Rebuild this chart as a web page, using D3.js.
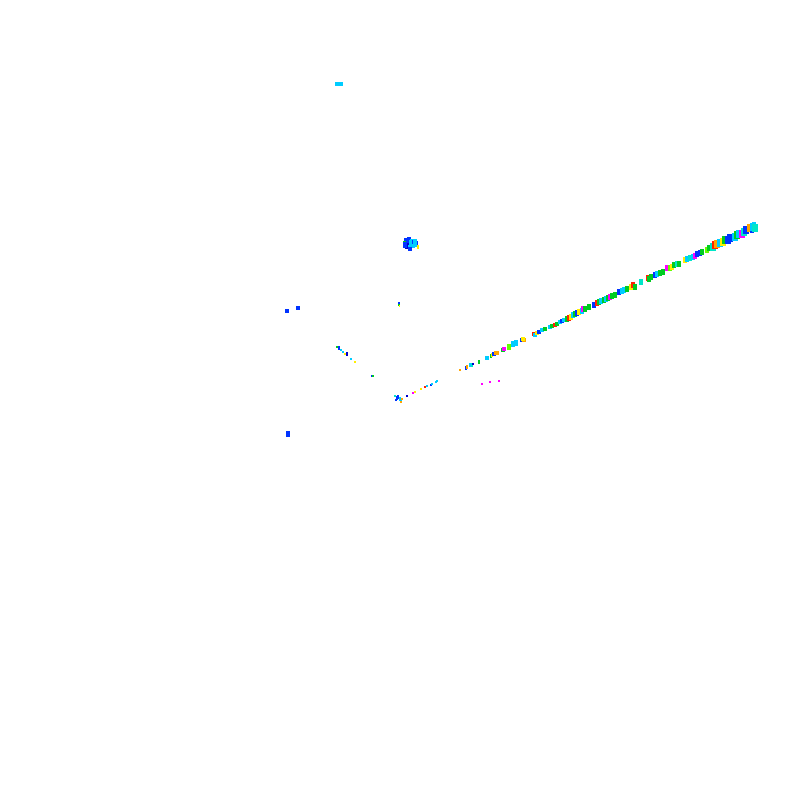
<!DOCTYPE html>
<html>
<head>
<meta charset="utf-8">
<script src="https://cdn.jsdelivr.net/npm/d3@7"></script>
<style>
  body { margin: 0; background: #fff; }
  svg { display: block; }
</style>
</head>
<body>
<svg id="cloud_svg" width="800" height="800"></svg>
<script>
// each point: [x, y, depth, colour key]
var lineHead = [
  [64.1,51.8,3,'t'], [64.8,52.2,3,'r'], [64.9,52.1,3,'g'], [65.1,52.3,3,'g'],
  [65.5,52.5,3,'b'], [65.7,52.6,3,'c'], [66.0,52.7,3,'g'], [66.3,52.8,3,'g'],
  [66.7,53.2,3,'m'], [67.0,53.2,3,'l'], [67.2,53.3,3,'y'], [67.4,53.5,3,'g'],
  [67.7,53.6,3,'t'], [67.9,53.6,3,'g'], [68.5,54.0,3.5,'y'], [68.7,54.1,3.5,'c'],
  [69.0,54.2,3.5,'t'], [69.3,54.3,3.5,'c'], [69.5,54.4,3.5,'m'], [69.7,54.6,3.5,'b'],
  [70.0,54.7,3.5,'b'], [70.2,54.8,3.5,'g'], [70.7,55.0,3.5,'l'], [70.9,55.2,3.5,'g'],
  [71.3,55.3,4,'t'], [71.5,55.5,4,'r'], [71.7,55.6,4,'o'], [72.0,55.7,4,'c'],
  [72.3,55.8,4,'y'], [72.5,56.0,4,'g'], [72.8,56.0,4,'b'], [73.0,56.2,4,'b'],
  [73.5,56.3,4,'c'], [73.7,56.5,4,'g'], [73.9,56.6,4,'c'], [74.2,56.6,4,'m'],
  [74.4,56.8,4,'t'], [74.6,57.0,4,'b'], [75.0,57.2,4,'o'], [75.2,57.0,3,'b'],
  [75.3,57.3,4,'c'], [75.4,57.5,3,'c'], [75.5,57.2,4,'t']
];

var lineMid = [
  [52.3,46.1,2,'y'], [53.4,46.6,2,'r'], [53.5,46.5,2,'c'], [53.7,46.7,2,'y'],
  [53.9,46.8,2,'b'], [54.2,47.0,2,'c'], [54.5,47.1,2,'g'], [55.0,47.3,2,'c'],
  [55.2,47.4,2,'g'], [55.5,47.5,2,'r'], [55.7,47.6,2,'g'], [56.0,47.8,2,'c'],
  [56.2,47.9,2,'b'], [56.4,48.0,2,'c'], [56.7,48.1,2.5,'g'], [56.9,48.2,2.5,'r'],
  [57.1,48.3,2.5,'y'], [57.3,48.5,2.5,'c'], [57.5,48.6,2.5,'g'], [57.7,48.7,2.5,'b'],
  [57.9,48.8,2.5,'y'], [58.2,48.9,2.5,'c'], [58.3,49.1,2.5,'m'], [58.5,49.1,2.5,'g'],
  [58.9,49.3,2.5,'g'], [59.4,49.5,2.5,'b'], [59.7,49.7,2.5,'r'], [59.9,49.8,2.5,'g'],
  [60.1,49.9,2.5,'c'], [60.4,50.0,2.5,'g'], [60.6,50.1,2.5,'c'], [60.8,50.2,2.5,'g'],
  [61.0,50.3,2.5,'m'], [61.2,50.4,2.5,'g'], [61.5,50.5,2.5,'g'], [61.9,50.8,3,'b'],
  [62.2,50.9,3,'c'], [62.4,51.0,3,'c'], [62.7,51.1,3,'g'], [63.1,51.3,3,'y'],
  [63.3,51.5,3,'r'], [63.5,51.3,3,'g']
];

var lineTail = [
  [46.0,43.0,1,'o'], [46.6,43.2,1.5,'b'], [46.7,43.3,1.5,'o'], [47.0,43.5,1.5,'c'],
  [47.2,43.5,1.5,'t'], [47.3,43.6,1,'n'], [47.9,43.8,1.5,'g'], [48.7,44.2,2,'c'],
  [49.1,44.4,1.5,'g'], [49.2,44.5,1.5,'y'], [49.4,44.6,2,'b'], [49.6,44.7,2,'o'],
  [49.7,44.7,2,'o'], [50.3,45.0,2,'g'], [50.4,45.1,2,'m'], [50.9,45.3,2.5,'l'],
  [51.3,45.6,2.5,'c'], [51.6,45.7,2.5,'c'], [52.2,46.0,2,'b'], [52.4,46.0,2,'o']
];

var lineStart = [
  [39.5,40.4,1,'t'], [39.7,40.2,1.5,'b'], [39.8,40.3,1.5,'b'], [39.6,40.0,1,'b'],
  [40.0,40.1,1.5,'c'], [40.1,39.9,1,'c'], [40.2,40.1,1,'o'], [40.1,39.8,1,'o'],
  [40.7,40.4,1,'n'], [41.3,40.7,1,'m'], [41.5,40.8,1,'y'], [42.1,41.1,1,'y'],
  [42.5,41.3,1,'r'], [42.7,41.4,1,'c'], [43.1,41.5,1,'b'], [43.2,41.6,1,'c'],
  [43.6,41.8,1,'c'], [43.7,41.9,1,'c']
];

var strays = [
  [48.2,41.6,1,'m'], [49.0,41.8,1,'m'], [49.9,41.9,1,'m'],
  [39.9,49.6,1.5,'g'], [39.9,49.7,1,'b'], [39.95,49.4,1,'y'],
  [29.8,49.2,2,'b'], [28.7,48.9,2,'b'],
  [33.7,45.3,1,'g'], [33.9,45.2,1.5,'b'], [34.1,45.0,1,'c'], [34.3,44.8,1,'c'],
  [34.5,44.6,1,'y'], [34.7,44.6,1.5,'n'], [35.1,44.1,1,'c'], [35.5,43.8,1,'y'],
  [37.2,42.4,1,'b'], [37.3,42.4,1,'g'],
  [28.8,36.6,3,'b'],
  [33.7,71.6,2,'c'], [33.9,71.6,2,'c'], [34.1,71.6,2,'c']
];

var blob = [
  [40.6,55.9,2.5,'b'], [40.9,56.0,2.5,'b'], [41.2,55.9,2,'c'], [40.5,55.7,2,'g'],
  [40.8,55.6,2.5,'b'], [41.1,55.7,2.5,'c'], [41.4,55.7,2.5,'b'], [41.6,55.6,2.5,'b'],
  [40.7,55.4,2.5,'n'], [41.0,55.3,2,'c'], [41.3,55.4,2,'c'], [41.0,55.1,2,'b'],
  [41.8,55.3,1.5,'y'], [41.5,55.5,2,'c'], [40.5,55.5,2.5,'b'], [41.5,55.9,2,'c']
];

var colourKeys = ['n', 'b', 'c', 't', 'g', 'l', 'y', 'o', 'r', 'm'];
var colourValues = ['#0000cc', '#0033ff', '#00ccff', '#00e6c8', '#00cc22',
                    '#66ff00', '#ffee00', '#ffa500', '#ff2200', '#ff00ff'];

drawCloud();

function drawCloud() {
  var svg = d3.select("#cloud_svg");
  var width = 800, height = 800;

  var points = [].concat(lineStart, lineTail, lineMid, lineHead, strays, blob);

  var xScale = d3.scaleLinear().domain([0, 80]).range([0, width]);
  var yScale = d3.scaleLinear().domain([0, 80]).range([height, 0]);
  var sizeScale = d3.scaleLinear().domain([0, 4]).range([0.8, 5.5]);
  var colour = d3.scaleOrdinal().domain(colourKeys).range(colourValues);

  svg.selectAll("rect.pt")
     .data(points)
     .enter().append("rect")
     .attr("class", "pt")
     .attr("shape-rendering", "crispEdges")
     .attr("x", d => xScale(d[0]) - sizeScale(d[2]) / 2)
     .attr("y", d => yScale(d[1]) - sizeScale(d[2]) * 0.7)
     .attr("width", d => sizeScale(d[2]))
     .attr("height", d => sizeScale(d[2]) * 1.4)
     .attr("fill", d => colour(d[3]));
}
</script>
</body>
</html>
